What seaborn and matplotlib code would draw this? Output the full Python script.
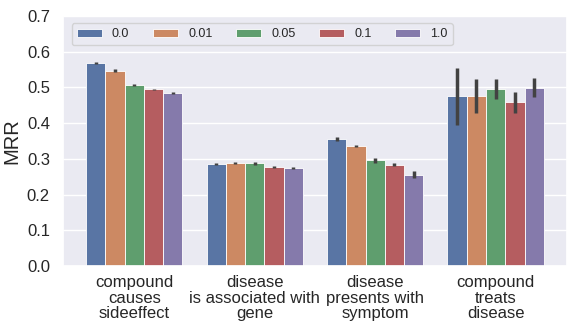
import numpy as np
import pandas as pd
import matplotlib
matplotlib.use('Agg')
import matplotlib.pyplot as plt
import seaborn as sns

# relation types on the x axis
relations = ['compound\ncauses\nsideeffect',
             'disease\nis associated with\ngene',
             'disease\npresents with\nsymptom',
             'compound\ntreats\ndisease']
# hue levels
levels = ['0.0', '0.01', '0.05', '0.1', '1.0']

# mean MRR per level (one list per level, ordered as relations)
mrr_00 = [0.569, 0.286, 0.355, 0.475]
mrr_001 = [0.547, 0.289, 0.336, 0.475]
mrr_005 = [0.506, 0.287, 0.296, 0.495]
mrr_01 = [0.494, 0.278, 0.284, 0.458]
mrr_10 = [0.483, 0.275, 0.256, 0.499]

# half width of the error bars
err_00 = [0.003, 0.003, 0.006, 0.080]
err_001 = [0.003, 0.003, 0.003, 0.048]
err_005 = [0.002, 0.003, 0.007, 0.029]
err_01 = [0.002, 0.003, 0.005, 0.029]
err_10 = [0.003, 0.003, 0.010, 0.027]

means = [mrr_00, mrr_001, mrr_005, mrr_01, mrr_10]
errs = [err_00, err_001, err_005, err_01, err_10]

rows = []
for lv, m in zip(levels, means):
    for rel, v in zip(relations, m):
        rows.append({'relation': rel, 'level': lv, 'MRR': v})
df = pd.DataFrame(rows)

sns.set_theme(style='darkgrid')
plt.rcParams['font.family'] = ['Liberation Sans', 'DejaVu Sans']

fig = plt.figure(figsize=(5.69, 3.24), dpi=100)
ax = fig.add_axes([0.111, 0.179, 0.885, 0.772])

sns.barplot(data=df, x='relation', y='MRR', hue='level', order=relations,
            hue_order=levels, palette='deep', errorbar=None,
            edgecolor='white', linewidth=0.6, ax=ax)

# error bars at the bar centres
for cont, e in zip(ax.containers, errs):
    xs = [p.get_x() + p.get_width() / 2 for p in cont.patches]
    ys = [p.get_height() for p in cont.patches]
    ax.errorbar(xs, ys, yerr=e, fmt='none', ecolor='.26', elinewidth=2.5,
                capsize=0, zorder=5)

ax.set_ylim(0, 0.7)
ax.set_yticks(np.arange(0, 0.71, 0.1))
ax.set_yticklabels(['%.1f' % t for t in np.arange(0, 0.71, 0.1)], fontsize=12)
ax.tick_params(axis='x', labelsize=12, pad=0.5)
for lab in ax.get_xticklabels():
    lab.set_linespacing(1.05)
ax.set_xlabel('')
ax.set_ylabel('MRR', fontsize=14.5)

ax.legend(loc='upper left', ncol=5, fontsize=9, handlelength=2.0,
          columnspacing=1.9, title=None, bbox_to_anchor=(0.005, 0.995))

fig.savefig('out.png', dpi=100)
